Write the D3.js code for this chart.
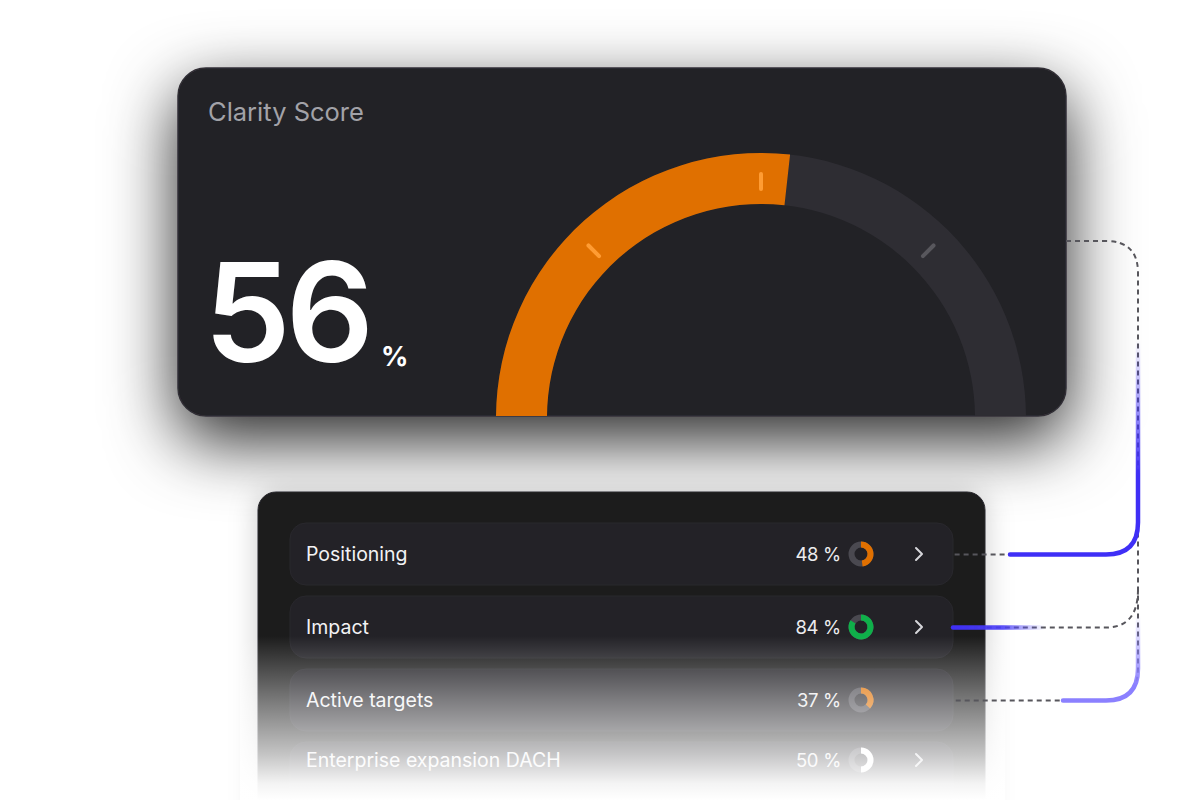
<!DOCTYPE html>
<html>
<head>
<meta charset="utf-8">
<script src="https://cdn.jsdelivr.net/npm/d3@7"></script>
<style>
  html, body { margin: 0; padding: 0; background: #ffffff; }
  svg { display: block; }
  text { font-family: Inter, "Noto Sans", sans-serif; }
</style>
</head>
<body>
<svg id="chart" width="1200" height="800"></svg>
<script>
// ---------- data ----------
const title = "Clarity Score";
const scoreValue = 56;            // headline number
const gaugeFillValue = 53.5;      // filled share of the gauge as read from the arc
const gaugeTicks = [25, 50, 75];

const rowLabels = ["Positioning", "Impact", "Active targets", "Enterprise expansion DACH"];
const rowValues = [48, 84, 37, 50];
const rowColors = ["#e07000", "#0fb04a", "#e07000", "#ffffff"];
const rowChevron = [true, true, false, true];

// ---------- setup ----------
const svg = d3.select("#chart");
const defs = svg.append("defs");

// shadow for top card
const f = defs.append("filter").attr("id", "cardShadow")
  .attr("x", "-30%").attr("y", "-50%").attr("width", "160%").attr("height", "210%");
f.append("feGaussianBlur").attr("in", "SourceAlpha").attr("stdDeviation", 34).attr("result", "b");
f.append("feOffset").attr("in", "b").attr("dx", 0).attr("dy", 24).attr("result", "o");
f.append("feFlood").attr("flood-color", "#000").attr("flood-opacity", 0.85).attr("result", "c");
f.append("feComposite").attr("in", "c").attr("in2", "o").attr("operator", "in").attr("result", "s");
const fm = f.append("feMerge");
fm.append("feMergeNode").attr("in", "s");
fm.append("feMergeNode").attr("in", "SourceGraphic");

const f2 = defs.append("filter").attr("id", "cardShadow2")
  .attr("x", "-20%").attr("y", "-20%").attr("width", "140%").attr("height", "140%");
f2.append("feGaussianBlur").attr("in", "SourceAlpha").attr("stdDeviation", 14).attr("result", "b");
f2.append("feFlood").attr("flood-color", "#000").attr("flood-opacity", 0.2).attr("result", "c");
f2.append("feComposite").attr("in", "c").attr("in2", "b").attr("operator", "in").attr("result", "s");
const fm2 = f2.append("feMerge");
fm2.append("feMergeNode").attr("in", "s");
fm2.append("feMergeNode").attr("in", "SourceGraphic");

// fade overlay gradient
const fade = defs.append("linearGradient").attr("id", "fade")
  .attr("gradientUnits", "userSpaceOnUse").attr("x1", 0).attr("y1", 636).attr("x2", 0).attr("y2", 800);
[[0, 0], [0.4, 0.42], [0.72, 0.74], [0.9, 0.95], [1, 1]].forEach(([o, a]) =>
  fade.append("stop").attr("offset", o).attr("stop-color", "#fff").attr("stop-opacity", a));

function vGrad(id, color, y1, y2) {
  const g = defs.append("linearGradient").attr("id", id)
    .attr("gradientUnits", "userSpaceOnUse").attr("x1", 0).attr("y1", y1).attr("x2", 0).attr("y2", y2);
  g.append("stop").attr("offset", 0).attr("stop-color", color).attr("stop-opacity", 0);
  g.append("stop").attr("offset", 1).attr("stop-color", color).attr("stop-opacity", 1);
}
vGrad("blueGrad", "#3f2ff6", 340, 475);
vGrad("lightGrad", "#8b80ff", 615, 685);
const hg = defs.append("linearGradient").attr("id", "blueH")
  .attr("gradientUnits", "userSpaceOnUse").attr("x1", 952).attr("y1", 0).attr("x2", 1045).attr("y2", 0);
hg.append("stop").attr("offset", 0).attr("stop-color", "#3f2ff6").attr("stop-opacity", 1);
hg.append("stop").attr("offset", 0.55).attr("stop-color", "#4a3ef7").attr("stop-opacity", 0.9);
hg.append("stop").attr("offset", 1).attr("stop-color", "#6a60f8").attr("stop-opacity", 0);

// ---------- top card ----------
const card = { x: 178, y: 68, w: 888, h: 348, r: 28 };
defs.append("clipPath").attr("id", "cardClip")
  .append("rect").attr("x", card.x).attr("y", card.y).attr("width", card.w).attr("height", card.h).attr("rx", card.r);

const topCard = svg.append("g");
topCard.append("rect")
  .attr("x", card.x).attr("y", card.y).attr("width", card.w).attr("height", card.h).attr("rx", card.r)
  .attr("fill", "#212025").attr("stroke", "#302f35").attr("stroke-width", 1.5)
  .attr("filter", "url(#cardShadow)");

topCard.append("text").attr("x", 208).attr("y", 121)
  .attr("font-size", 25.5).attr("fill", "#a2a2a8").text(title);

const big = topCard.append("text").attr("x", 204).attr("y", 362).attr("fill", "#ffffff");
big.append("tspan").attr("font-size", 138).attr("font-weight", 600).attr("letter-spacing", -5).text(scoreValue);
big.append("tspan").attr("dx", 12).attr("dy", 4).attr("font-size", 27).attr("font-weight", 700).text("%");

// gauge
const gx = 761, gy = 418, rIn = 214, rOut = 265;
const angle = d3.scaleLinear().domain([0, 100]).range([-Math.PI / 2, Math.PI / 2]);
const arc = d3.arc().innerRadius(rIn).outerRadius(rOut);
const gauge = topCard.append("g").attr("clip-path", "url(#cardClip)")
  .append("g").attr("transform", `translate(${gx},${gy})`);
gauge.append("path").attr("d", arc({ startAngle: angle(0), endAngle: angle(100) })).attr("fill", "#2e2d33");
gauge.append("path").attr("d", arc({ startAngle: angle(0), endAngle: angle(gaugeFillValue) })).attr("fill", "#e07000");
gauge.selectAll("line.tick").data(gaugeTicks).join("line")
  .attr("class", "tick")
  .attr("x1", d => Math.sin(angle(d)) * 229).attr("y1", d => -Math.cos(angle(d)) * 229)
  .attr("x2", d => Math.sin(angle(d)) * 244).attr("y2", d => -Math.cos(angle(d)) * 244)
  .attr("stroke", d => d < gaugeFillValue ? "#ff9c33" : "#58575d")
  .attr("stroke-width", 4).attr("stroke-linecap", "round");

// ---------- bottom card ----------
const bottomCard = svg.append("g");
bottomCard.append("rect").attr("x", 258).attr("y", 492).attr("width", 727).attr("height", 360).attr("rx", 18)
  .attr("fill", "#1c1c1f").attr("stroke", "#26252a").attr("filter", "url(#cardShadow2)");

const rowY = d3.scaleBand().domain(rowLabels).range([523, 523 + 4 * 73 - 11]).paddingInner(11 / 73);
const bh = rowY.bandwidth();
// the last row is cut by the list's fade, its content sits higher in the row
const textY = i => (i < rowLabels.length - 1 ? bh / 2 : 18);
const donutArc = d3.arc().innerRadius(6.5).outerRadius(12.5);
const donutAngle = d3.scaleLinear().domain([0, 100]).range([0, 2 * Math.PI]);

const rows = bottomCard.selectAll("g.row").data(rowLabels).join("g")
  .attr("class", "row")
  .attr("transform", d => `translate(0,${rowY(d)})`);
rows.append("rect").attr("x", 290).attr("y", 0).attr("width", 663).attr("height", bh).attr("rx", 16)
  .attr("fill", "#232227").attr("stroke", "#29282d").attr("stroke-width", 1);
rows.append("text").attr("x", 306).attr("y", (d, i) => textY(i) + 7)
  .attr("font-size", 19.5).attr("fill", "#f2f2f4").text(d => d);
rows.append("text").attr("x", 841).attr("y", (d, i) => textY(i) + 7).attr("text-anchor", "end")
  .attr("font-size", 18.5).attr("letter-spacing", -0.3).attr("fill", "#ececee").text((d, i) => rowValues[i] + " %");
const donuts = rows.append("g").attr("transform", (d, i) => `translate(861,${textY(i)})`);
donuts.append("path").attr("d", donutArc({ startAngle: 0, endAngle: 2 * Math.PI })).attr("fill", "#4a4950");
donuts.append("path").attr("d", (d, i) => donutArc({ startAngle: 0, endAngle: donutAngle(rowValues[i]) }))
  .attr("fill", (d, i) => rowColors[i]);
rows.filter((d, i) => rowChevron[i]).append("path")
  .attr("d", (d) => { const i = rowLabels.indexOf(d), c = textY(i); return `M916,${c - 6} L922,${c} L916,${c + 6}`; })
  .attr("fill", "none").attr("stroke", "#d6d6da").attr("stroke-width", 2)
  .attr("stroke-linecap", "round").attr("stroke-linejoin", "round");

// fade overlay
bottomCard.append("rect").attr("x", 240).attr("y", 630).attr("width", 765).attr("height", 175).attr("fill", "url(#fade)");

// ---------- connectors ----------
const conn = svg.append("g").attr("fill", "none");
const yRow = i => rowY(rowLabels[i]) + bh / 2 + 0.5;
const vx = 1138, rr = 32;
const dash = { stroke: "#57565c", w: 2, da: "5 4" };
const dashed = d => conn.append("path").attr("d", d).attr("stroke", dash.stroke)
  .attr("stroke-width", dash.w).attr("stroke-dasharray", dash.da);
dashed(`M1066,241 H${vx - rr} Q${vx},241 ${vx},${241 + rr} V${yRow(2) - rr} Q${vx},${yRow(2)} ${vx - rr},${yRow(2)} H953`);
dashed(`M${vx},${yRow(0) - rr} Q${vx},${yRow(0)} ${vx - rr},${yRow(0)} H953`);
dashed(`M${vx},${yRow(1) - 38} Q${vx},${yRow(1)} ${vx - rr},${yRow(1)} H953`);

conn.append("path")
  .attr("d", `M${vx},340 V${yRow(0) - rr} Q${vx},${yRow(0)} ${vx - rr},${yRow(0)} H1010`)
  .attr("stroke", "url(#blueGrad)").attr("stroke-width", 4.5).attr("stroke-linecap", "round");
conn.append("path")
  .attr("d", `M953,${yRow(1)} H1045`)
  .attr("stroke", "url(#blueH)").attr("stroke-width", 4.5).attr("stroke-linecap", "round");
conn.append("path")
  .attr("d", `M${vx},612 V${yRow(2) - rr} Q${vx},${yRow(2)} ${vx - rr},${yRow(2)} H1063`)
  .attr("stroke", "url(#lightGrad)").attr("stroke-width", 4.5).attr("stroke-linecap", "round");
</script>
</body>
</html>
